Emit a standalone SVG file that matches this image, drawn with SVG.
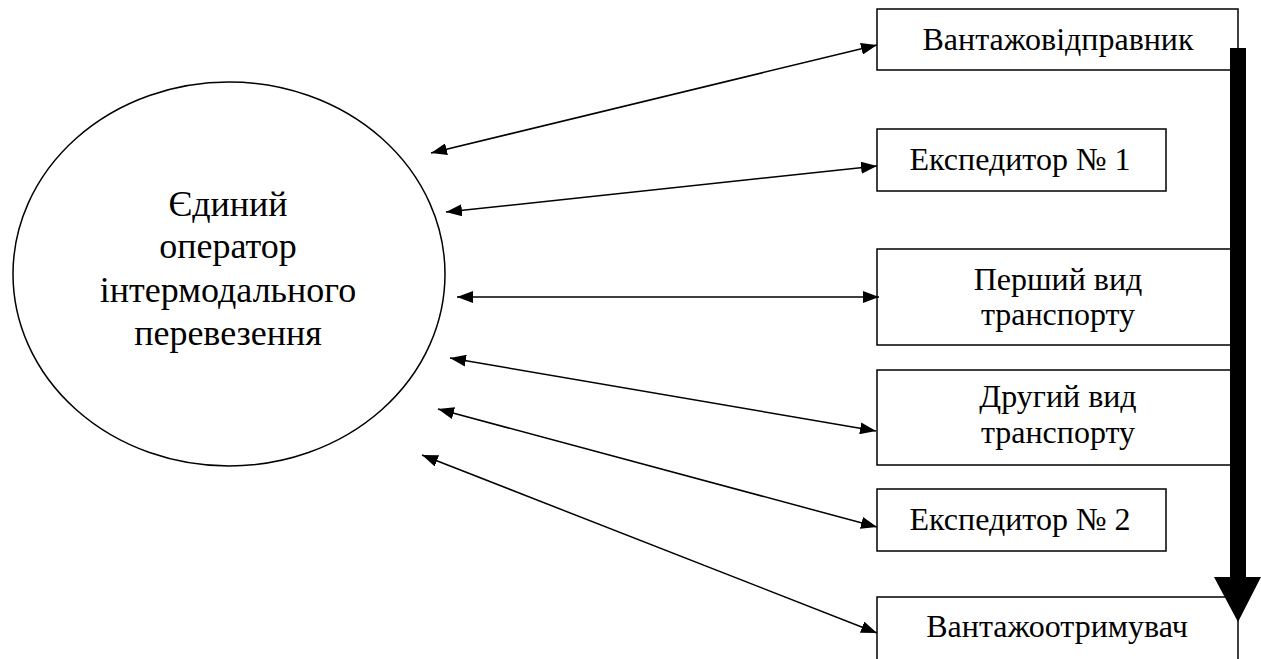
<svg xmlns="http://www.w3.org/2000/svg" width="1261" height="659" viewBox="0 0 1261 659">
<style>
.box{fill:#fff;stroke:#000;stroke-width:1.5}
text{font-family:"Liberation Serif","DejaVu Serif",serif;font-size:32px;fill:#000;text-anchor:middle}
text.big{font-size:36px}
.c{stroke:#000;stroke-width:1.5;fill:none;marker-start:url(#ah);marker-end:url(#ah)}
</style>
<defs>
<marker id="ah" viewBox="0 0 16 12" refX="16" refY="6" markerWidth="16" markerHeight="12" markerUnits="userSpaceOnUse" orient="auto-start-reverse">
<path d="M0,0 L16,6 L0,12 Z" fill="#000"/>
</marker>
</defs>
<rect width="1261" height="659" fill="#fff"/>
<g id="operator">
<ellipse cx="229" cy="274" rx="216" ry="192" fill="#fff" stroke="#000" stroke-width="1.5"/>
<text class="big" x="228" y="216">Єдиний</text>
<text class="big" x="228" y="258">оператор</text>
<text class="big" x="228" y="302">інтермодального</text>
<text class="big" x="228" y="345">перевезення</text>
</g>
<g id="shipper">
<rect class="box" x="877" y="9" width="361" height="61"/>
<text x="1058" y="50">Вантажовідправник</text>
</g>
<g id="forwarder1">
<rect class="box" x="877" y="129" width="289" height="62"/>
<text x="1020" y="170">Експедитор № 1</text>
</g>
<g id="transport1">
<rect class="box" x="877" y="249" width="361" height="96"/>
<text x="1058" y="290">Перший вид</text>
<text x="1058" y="325">транспорту</text>
</g>
<g id="transport2">
<rect class="box" x="877" y="370" width="361" height="95"/>
<text x="1058" y="407">Другий вид</text>
<text x="1058" y="443">транспорту</text>
</g>
<g id="forwarder2">
<rect class="box" x="877" y="489" width="289" height="62"/>
<text x="1020" y="530">Експедитор № 2</text>
</g>
<g id="consignee">
<rect class="box" x="877" y="597" width="361" height="80"/>
<text x="1057" y="637">Вантажоотримувач</text>
</g>
<g id="connectors">
<line class="c" x1="431" y1="153" x2="877" y2="45"/>
<line class="c" x1="446" y1="212" x2="877" y2="166"/>
<line class="c" x1="457" y1="297" x2="879" y2="297"/>
<line class="c" x1="450" y1="358" x2="876" y2="431"/>
<line class="c" x1="438" y1="409" x2="877" y2="527"/>
<line class="c" x1="422" y1="455" x2="877" y2="633"/>
<path d="M1230,48 H1246 V577 H1261 L1238,622 L1214,577 H1230 Z" fill="#000"/>
</g>
</svg>
